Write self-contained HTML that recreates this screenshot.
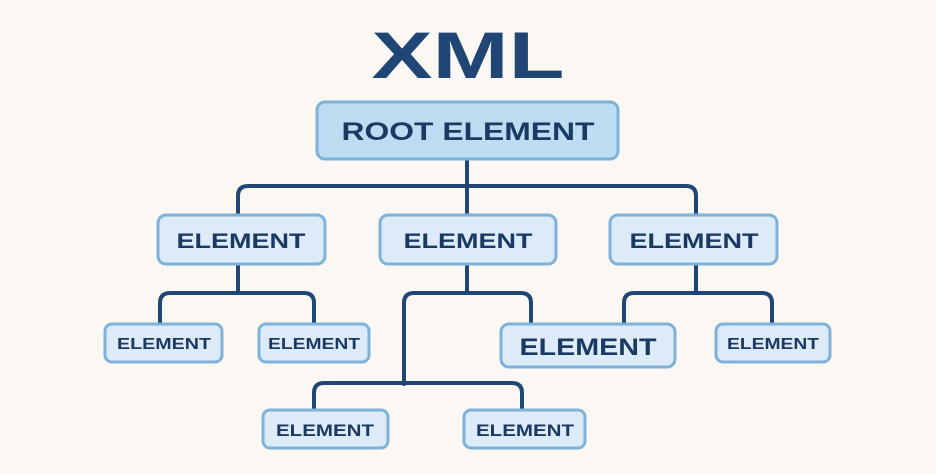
<!DOCTYPE html>
<html><head><meta charset="utf-8"><style>
html,body{margin:0;padding:0;background:#fbf8f4;}
svg{display:block}
text{font-family:"Liberation Sans",sans-serif;font-weight:bold;fill:#1b3a63;}
</style></head><body>
<svg width="936" height="474" viewBox="0 0 936 474" xmlns="http://www.w3.org/2000/svg">
<rect width="936" height="474" fill="#fbf8f4"/>
<text x="468" y="78" font-size="66" text-anchor="middle" textLength="193" lengthAdjust="spacingAndGlyphs" style="fill:#1f4675">XML</text>
<g fill="none" stroke="#1f4675" stroke-width="4" stroke-linecap="round" stroke-linejoin="round">
<path d="M467 159 V186"/>
<path d="M238 214 V196 Q238 186 248 186 H686 Q696 186 696 196 V214"/>
<path d="M467 186 V214"/>
<path d="M238 264 V293"/>
<path d="M160 323 V303 Q160 293 170 293 H304 Q314 293 314 303 V323"/>
<path d="M467 264 V293"/>
<path d="M404 384 V303 Q404 293 414 293 H521 Q531 293 531 303 V323"/>
<path d="M314 409 V393 Q314 383 324 383 H512 Q522 383 522 393 V409"/>
<path d="M696 264 V293"/>
<path d="M624 323 V303 Q624 293 634 293 H762 Q772 293 772 303 V323"/>
</g>
<g stroke="#7eb2d9" stroke-width="3">
<rect x="317" y="102" width="301" height="57" rx="8" fill="#bcdcf2"/>
<rect x="158" y="215" width="167" height="49" rx="8" fill="#dcebf7"/>
<rect x="380" y="215" width="176" height="49" rx="8" fill="#dcebf7"/>
<rect x="610" y="215" width="167" height="49" rx="8" fill="#dcebf7"/>
<rect x="105" y="324" width="117" height="38" rx="7" fill="#dcebf7"/>
<rect x="259" y="324" width="110" height="38" rx="7" fill="#dcebf7"/>
<rect x="501" y="324" width="174" height="43" rx="8" fill="#dcebf7"/>
<rect x="716" y="324" width="114" height="38" rx="7" fill="#dcebf7"/>
<rect x="263" y="410" width="125" height="38" rx="7" fill="#dcebf7"/>
<rect x="464" y="410" width="121" height="38" rx="7" fill="#dcebf7"/>
</g>
<text x="468" y="140" font-size="25" text-anchor="middle" textLength="253" lengthAdjust="spacingAndGlyphs">ROOT ELEMENT</text>
<text x="241" y="248" font-size="21" text-anchor="middle" textLength="129" lengthAdjust="spacingAndGlyphs">ELEMENT</text>
<text x="468" y="248" font-size="21" text-anchor="middle" textLength="129" lengthAdjust="spacingAndGlyphs">ELEMENT</text>
<text x="694" y="248" font-size="21" text-anchor="middle" textLength="129" lengthAdjust="spacingAndGlyphs">ELEMENT</text>
<text x="164" y="349" font-size="16" text-anchor="middle" textLength="94" lengthAdjust="spacingAndGlyphs">ELEMENT</text>
<text x="314" y="349" font-size="16" text-anchor="middle" textLength="92" lengthAdjust="spacingAndGlyphs">ELEMENT</text>
<text x="588" y="355" font-size="24" text-anchor="middle" textLength="137" lengthAdjust="spacingAndGlyphs">ELEMENT</text>
<text x="773" y="349" font-size="16" text-anchor="middle" textLength="92" lengthAdjust="spacingAndGlyphs">ELEMENT</text>
<text x="325" y="436" font-size="17" text-anchor="middle" textLength="98" lengthAdjust="spacingAndGlyphs">ELEMENT</text>
<text x="525" y="436" font-size="17" text-anchor="middle" textLength="98" lengthAdjust="spacingAndGlyphs">ELEMENT</text>
</svg>
</body></html>
